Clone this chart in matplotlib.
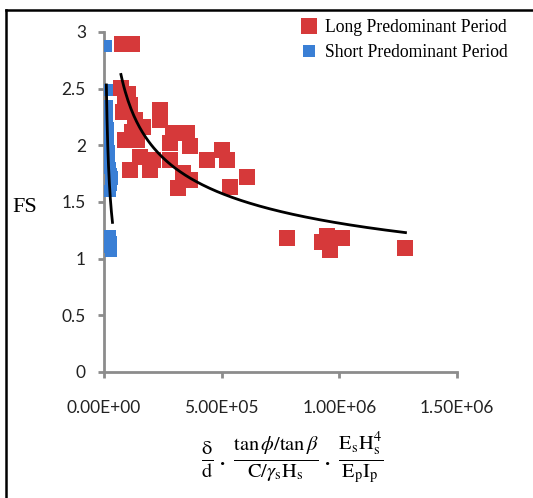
"""
FS vs. combined parameter, long / short predominant period
"""
import matplotlib.pyplot as plt
from matplotlib.lines import Line2D
import numpy as np

plt.rcParams['mathtext.fontset'] = 'stix'

# long predominant period (x in units of 1, y = FS)
longX = [77e3, 119e3, 72e3, 89e3, 81e3, 111e3, 132e3, 238e3, 238e3, 166e3,
         294e3, 353e3, 89e3, 140e3, 281e3, 366e3, 502e3, 438e3, 523e3, 153e3,
         209e3, 281e3, 111e3, 196e3, 336e3, 366e3, 315e3, 536e3, 608e3, 779e3,
         949e3, 1013e3, 962e3, 928e3, 1281e3, 100e3, 120e3]
longY = [2.89, 2.89, 2.51, 2.40, 2.29, 2.36, 2.22, 2.31, 2.22, 2.16,
         2.11, 2.11, 2.05, 2.05, 2.02, 1.99, 1.96, 1.87, 1.87, 1.90,
         1.87, 1.87, 1.78, 1.78, 1.76, 1.69, 1.62, 1.63, 1.72, 1.18,
         1.20, 1.18, 1.08, 1.15, 1.09, 2.45, 2.12]

# short predominant period
shortX = [10e3, 11e3, 12e3, 10e3, 14e3, 12e3, 16e3, 13e3, 18e3, 15e3,
          20e3, 17e3, 22e3, 25e3, 28e3, 32e3, 36e3, 30e3, 26e3, 24e3,
          28e3, 26e3, 30e3]
shortY = [2.88, 2.49, 2.35, 2.30, 2.25, 2.20, 2.15, 2.10, 2.05, 2.00,
          1.95, 1.90, 1.85, 1.80, 1.75, 1.70, 1.72, 1.65, 1.60, 1.20,
          1.15, 1.10, 1.07]

yTicks = [0, 0.5, 1, 1.5, 2, 2.5, 3]
yTickLabels = ["0", "0.5", "1", "1.5", "2", "2.5", "3"]
xTicks = [0, 5e5, 1e6, 1.5e6]
xTickLabels = ["0.00E+00", "5.00E+05", "1.00E+06", "1.50E+06"]

red = "#d6393a"
blue = "#3a7fd5"
gray = "#8c8c8c"


# power trend line like Excel: fit in log-log space over the data range
def powerTrend(x, y):
    x = np.asarray(x)
    b, lna = np.polyfit(np.log(x), np.log(y), 1)
    xs = np.linspace(x.min(), x.max(), 200)
    return xs, np.exp(lna) * xs ** b


fig = plt.figure(figsize=(5.33, 4.98), dpi=100)
ax = fig.add_axes([104 / 533, 1 - 372 / 498, 353 / 533, 340 / 498])

ax.plot(longX, longY, "s", color=red, markersize=11, markeredgewidth=0, zorder=2)
ax.plot(shortX, shortY, "s", color=blue, markersize=8, markeredgewidth=0, zorder=3)

tx, ty = powerTrend(longX, longY)
ax.plot(tx, ty, color="black", lw=2, zorder=4)
tx, ty = powerTrend(shortX, shortY)
ax.plot(tx, ty, color="black", lw=2, zorder=4)

ax.set_xlim(0, 1.5e6)
ax.set_ylim(0, 3)
ax.set_xticks(xTicks)
ax.set_xticklabels(xTickLabels)
ax.set_yticks(yTicks)
ax.set_yticklabels(yTickLabels)

for side in ["top", "right"]:
    ax.spines[side].set_visible(False)
for side in ["left", "bottom"]:
    ax.spines[side].set_color(gray)
    ax.spines[side].set_linewidth(2)
ax.tick_params(color=gray, width=2, length=4, labelsize=12.5, labelcolor="#222222")
ax.tick_params(axis="x", pad=16)
ax.tick_params(axis="y", pad=9)
for lbl in ax.get_xticklabels() + ax.get_yticklabels():
    lbl.set_family("Lato")
ax.set_xlim(0, 1.5e6)

# legend
handles = [Line2D([], [], ls="", marker="s", color=red, markersize=11, markeredgewidth=0),
           Line2D([], [], ls="", marker="s", color=blue, markersize=8, markeredgewidth=0)]
fig.legend(handles, ["Long Predominant Period", "Short Predominant Period"],
           loc="upper left", bbox_to_anchor=(286 / 533, 1 - 7 / 498),
           frameon=False, prop={"family": "Liberation Serif", "size": 12.7},
           handletextpad=0.3, labelspacing=0.45, handlelength=1.2, borderpad=0.2)

fig.text(12 / 533, 1 - 208 / 498, "FS", family="Liberation Serif", size=16, va="center")

fig.text(292 / 533, 1 - 458 / 498,
         r"$\frac{\mathrm{\delta}}{\mathrm{d}}\,.\,"
         r"\frac{\mathrm{tan}\,\phi/\mathrm{tan}\,\beta}{\mathrm{C}/\gamma_\mathrm{s}\mathrm{H}_\mathrm{s}}"
         r"\,.\,\frac{\mathrm{E_sH_s^4}}{\mathrm{E_pI_p}}$",
         size=21, ha="center", va="center")

# border of the picture (top and left only)
fig.add_artist(Line2D([6 / 533, 6 / 533], [0, 1 - 10 / 498], color="black", lw=1.8))
fig.add_artist(Line2D([6 / 533, 1], [1 - 10 / 498, 1 - 10 / 498], color="black", lw=1.8))

fig.savefig("out.png", dpi=100)
